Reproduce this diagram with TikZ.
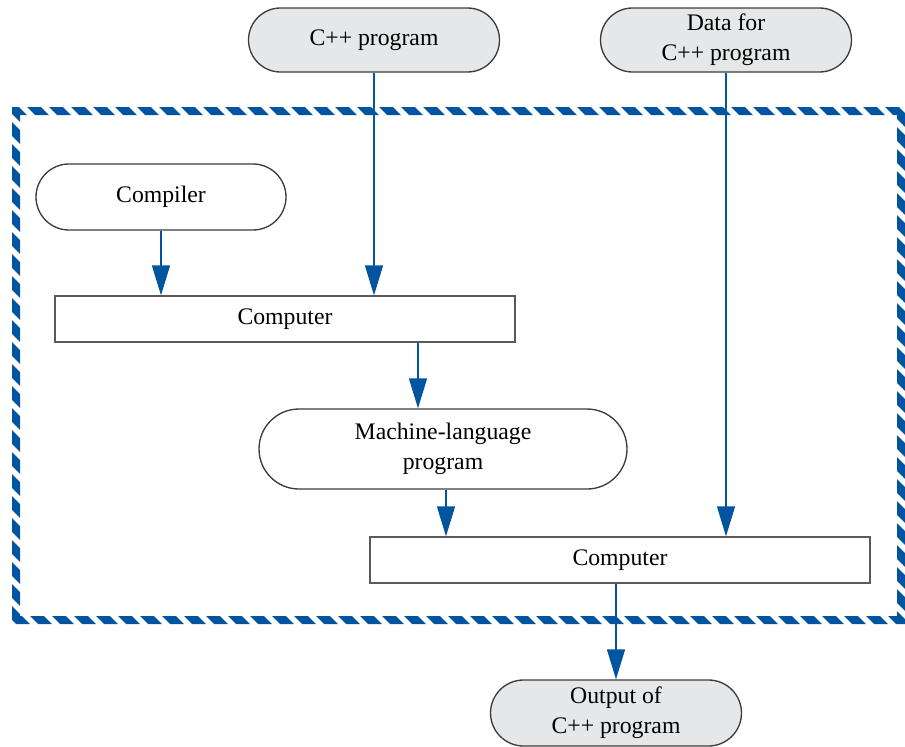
\documentclass[tikz,border=0pt]{standalone}
\usepackage{fontspec}
\setmainfont{Liberation Serif}
\usetikzlibrary{shapes.misc,arrows.meta,calc}
\definecolor{flowblue}{RGB}{0,84,160}
\definecolor{termgray}{RGB}{230,231,232}
\definecolor{edgegray}{RGB}{60,60,60}
\tikzset{
  term/.style={rounded rectangle, draw=edgegray, line width=1pt, fill=termgray,
    inner sep=0pt, align=center, font=\fontsize{17.8}{22.5}\selectfont},
  plainterm/.style={term, fill=white},
  box/.style={rectangle, draw=edgegray!85, line width=1pt, fill=white,
    inner sep=0pt, align=center, font=\fontsize{17.8}{22.5}\selectfont},
  flow/.style={draw=flowblue, line width=1pt,
    -{Triangle[width=13.5pt,length=22.5pt]}},
}
\begin{document}
\begin{tikzpicture}[x=0.75pt,y=-0.75pt]
\useasboundingbox (0,0) rectangle (905,746);

% hatched frame around the compile-and-run stages
\begin{scope}[even odd rule]
  \clip (12,107) rectangle (905,624) (20,115) rectangle (897,616);
  \foreach \k in {-30,...,45}
    \draw[flowblue, line width=7.2pt] (\k*22,95) -- ++(545,545);
\end{scope}

% nodes
\node[term, minimum width=188.25pt, minimum height=48pt] (cpp) at (374,40) {C++ program};
\node[term, minimum width=188.25pt, minimum height=48pt] (data) at (726,40) {Data for\\C++ program};
\node[plainterm, minimum width=187.5pt, minimum height=49.5pt] (compiler) at (161,197) {Compiler};
\node[box, minimum width=345pt, minimum height=34.5pt] (comp1) at (285,319) {Computer};
\node[plainterm, minimum width=276pt, minimum height=60pt] (machine) at (443,449) {Machine-language\\program};
\node[box, minimum width=375pt, minimum height=34.5pt] (comp2) at (620,560) {Computer};
\node[term, minimum width=188.25pt, minimum height=49.5pt] (out) at (616,713) {Output of\\C++ program};

% connectors
\draw[flow] (compiler.south) -- (compiler.south |- comp1.north);
\draw[flow] (cpp.south) -- (cpp.south |- comp1.north);
\coordinate (mtop) at ($(machine.north)+(-25,0)$);
\draw[flow] (mtop |- comp1.south) -- (mtop);
\coordinate (mbot) at ($(machine.south)+(3,0)$);
\draw[flow] (mbot) -- (mbot |- comp2.north);
\draw[flow] (data.south) -- (data.south |- comp2.north);
\draw[flow] (out.north |- comp2.south) -- (out.north);
\end{tikzpicture}
\end{document}
